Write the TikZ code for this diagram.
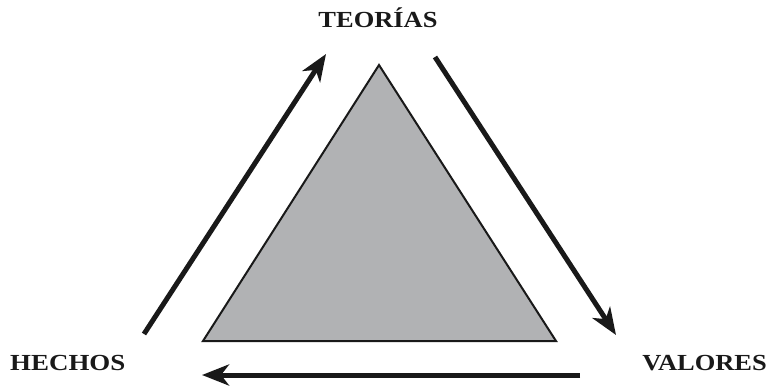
\documentclass[tikz,border=0pt]{standalone}
\usepackage{fontspec}
\setmainfont{Liberation Serif}
\usetikzlibrary{arrows.meta}
\definecolor{trigray}{HTML}{B1B2B4}
\tikzset{
  lbl/.style={font=\fontsize{23}{26}\selectfont\bfseries, inner sep=0pt, text=black!90},
  bigarrow/.style={line width=5pt, draw=black!90, -{Stealth[length=27pt,width=21pt,inset=8pt]}},
  tri/.style={draw=black!90, line width=2pt, fill=trigray, line join=miter}
}
\begin{document}
\begin{tikzpicture}[x=1pt,y=-1pt]
\useasboundingbox (0,0) rectangle (769,386);
\coordinate (A) at (379,65);
\coordinate (B) at (203,341);
\coordinate (C) at (556,341);
\draw[tri] (A) -- (B) -- (C) -- cycle;
\node[lbl, anchor=base] (teo) at (378,27) {\scalebox{1.15}[1]{TEORÍAS}};
\node[lbl, anchor=base west] (hec) at (10,370) {\scalebox{1.17}[1]{HECHOS}};
\node[lbl, anchor=base east] (val) at (767,370) {\scalebox{1.15}[1]{VALORES}};
\coordinate (l1) at (144,334);
\coordinate (l2) at (326,54);
\coordinate (r1) at (435,57);
\coordinate (r2) at (616,335);
\coordinate (b1) at (580,375);
\coordinate (b2) at (202,375);
\draw[bigarrow] (l1) -- (l2);
\draw[bigarrow] (r1) -- (r2);
\draw[bigarrow] (b1) -- (b2);
\end{tikzpicture}
\end{document}
